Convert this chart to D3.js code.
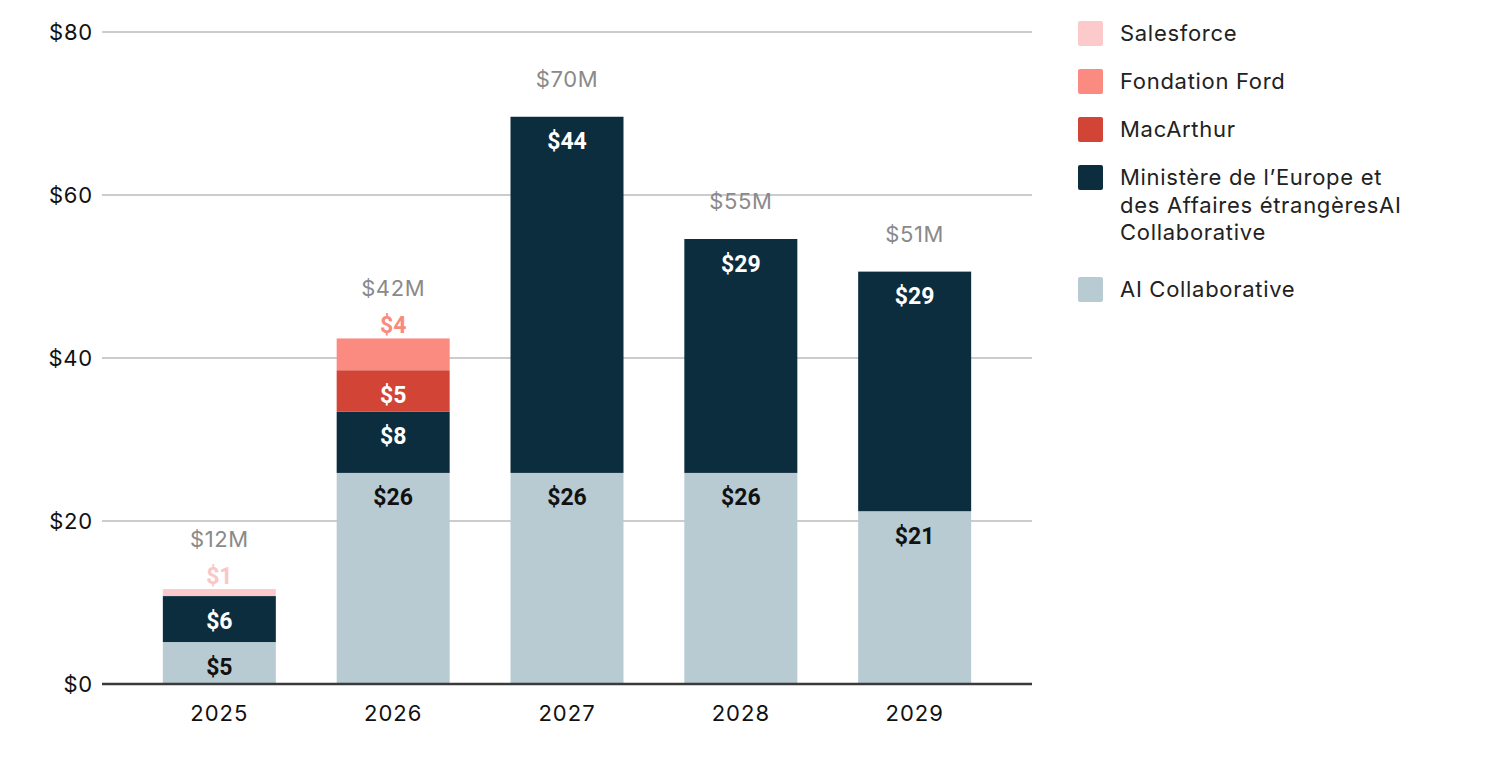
<!DOCTYPE html>
<html><head><meta charset="utf-8">
<script src="https://cdn.jsdelivr.net/npm/d3@7"></script>
<style>
html,body{margin:0;padding:0;background:#fff;}
svg{display:block;font-family:Inter, "Open Sans", sans-serif;}
</style></head>
<body>
<svg id="chart" width="1500" height="759"></svg>
<script>
const years = ["2025","2026","2027","2028","2029"];
const seriesNames = ["AI Collaborative","Ministère de l’Europe et des Affaires étrangèresAI Collaborative","MacArthur","Fondation Ford","Salesforce"];
const aiCollaborative = [5.15, 25.9, 25.9, 25.9, 21.2];
const ministere = [5.64, 7.5, 43.7, 28.7, 29.4];
const macArthur = [0, 5.1, 0, 0, 0];
const fondationFord = [0, 3.9, 0, 0, 0];
const salesforce = [0.86, 0, 0, 0, 0];
const yTicks = [0, 20, 40, 60, 80];

const seriesColors = ["#b8cbd2", "#0b2d3e", "#d24536", "#fb8a80", "#fccaca"];
const labelColors = ["#111", "#fff", "#fff", "#f98a7e", "#fbc6c6"];
const labelOutside = [false, false, false, true, true];

const legendOrder = [
  {name:"Salesforce", lines:["Salesforce"], idx:4},
  {name:"Fondation Ford", lines:["Fondation Ford"], idx:3},
  {name:"MacArthur", lines:["MacArthur"], idx:2},
  {name:"Ministère", lines:["Ministère de l’Europe et","des Affaires étrangèresAI","Collaborative"], idx:1},
  {name:"AI Collaborative", lines:["AI Collaborative"], idx:0}
];

const valuesBySeries = [aiCollaborative, ministere, macArthur, fondationFord, salesforce];
const table = years.map((yr,i)=>{
  const o = {year:yr};
  valuesBySeries.forEach((arr,k)=>o[k]=arr[i]);
  return o;
});

const svg = d3.select("#chart");
const mLeft = 102, mRight = 1032, mTop = 32, mBottom = 684;
const baseFont = "Inter, sans-serif";

const x = d3.scaleBand().domain(years).range([mLeft, mRight]).paddingInner(0.35).paddingOuter(0.35);
const y = d3.scaleLinear().domain([0, 80]).range([mBottom, mTop]);

const stack = d3.stack().keys(d3.range(valuesBySeries.length));
const stacked = stack(table);

// gridlines
svg.append("g").selectAll("line").data(yTicks.filter(t=>t>0)).join("line")
  .attr("x1", mLeft).attr("x2", mRight)
  .attr("y1", d=>y(d)).attr("y2", d=>y(d))
  .attr("stroke", "#cccccc").attr("stroke-width", 2);

// y axis labels
const yAxis = d3.axisLeft(y).tickValues(yTicks).tickSize(0).tickPadding(9).tickFormat(d=>"$"+d);
const yg = svg.append("g").attr("transform", `translate(${mLeft},0)`).call(yAxis);
yg.select(".domain").remove();
yg.selectAll("text").attr("font-size", 22).attr("letter-spacing", 0.8).attr("fill", "#111").attr("font-family", baseFont);

// bars
const layers = svg.append("g").selectAll("g").data(stacked).join("g")
  .attr("fill", d=>seriesColors[d.key]);
layers.selectAll("rect").data(d=>d.filter(s=>s[1]-s[0]>0)).join("rect")
  .attr("x", d=>x(d.data.year))
  .attr("width", x.bandwidth())
  .attr("y", d=>y(d[1]))
  .attr("height", d=>y(d[0])-y(d[1]));

// baseline
svg.append("line").attr("x1", mLeft).attr("x2", mRight)
  .attr("y1", y(0)).attr("y2", y(0))
  .attr("stroke", "#3a3a3a").attr("stroke-width", 2.5);

// x axis
const xAxis = d3.axisBottom(x).tickSize(0).tickPadding(21);
const xg = svg.append("g").attr("transform", `translate(0,${mBottom})`).call(xAxis);
xg.select(".domain").remove();
xg.selectAll("text").attr("font-size", 22).attr("letter-spacing", 1).attr("fill", "#111").attr("font-family", baseFont);

// segment labels
const topOuter = {};
stacked.forEach(layer=>{
  const k = layer.key;
  layer.forEach(s=>{
    const v = s[1]-s[0];
    if (v <= 0) return;
    const cx = x(s.data.year) + x.bandwidth()/2;
    let ty;
    if (labelOutside[k]) {
      ty = y(s[1]) - 13;
      topOuter[s.data.year] = ty;
    } else {
      ty = y(s[1]) + 25;
    }
    svg.append("text").attr("x", cx).attr("y", ty)
      .attr("text-anchor", "middle").attr("dominant-baseline", "central")
      .attr("font-size", 23).attr("font-weight", 700)
      .attr("font-family", "Roboto, sans-serif")
      .attr("fill", labelColors[k])
      .text("$" + Math.round(v));
  });
});

// totals
table.forEach(row=>{
  const total = d3.sum(valuesBySeries.map((_,k)=>row[k]));
  const cx = x(row.year) + x.bandwidth()/2;
  const ty = topOuter[row.year] !== undefined ? topOuter[row.year] - 37 : y(total) - 38;
  svg.append("text").attr("x", cx).attr("y", ty)
    .attr("text-anchor", "middle").attr("dominant-baseline", "central")
    .attr("font-size", 22).attr("letter-spacing", 0.6).attr("fill", "#8a8a8a")
    .attr("font-family", baseFont)
    .text("$" + Math.round(total) + "M");
});

// legend
let ly = 33;
const lg = svg.append("g");
legendOrder.forEach(item=>{
  lg.append("rect").attr("x", 1078).attr("y", ly-12).attr("width", 25).attr("height", 25)
    .attr("rx", 2).attr("fill", seriesColors[item.idx]);
  const t = lg.append("text").attr("x", 1120).attr("y", ly)
    .attr("dominant-baseline", "central").attr("font-size", 22).attr("letter-spacing", 0.7).attr("fill", "#222")
    .attr("font-family", baseFont);
  item.lines.forEach((ln,i)=>{
    t.append("tspan").attr("x", 1120).attr("dy", i===0?0:27.5).text(ln);
  });
  ly += 48 + (item.lines.length-1)*27.5 + (item.lines.length>1?9:0);
});
</script>
</body></html>
